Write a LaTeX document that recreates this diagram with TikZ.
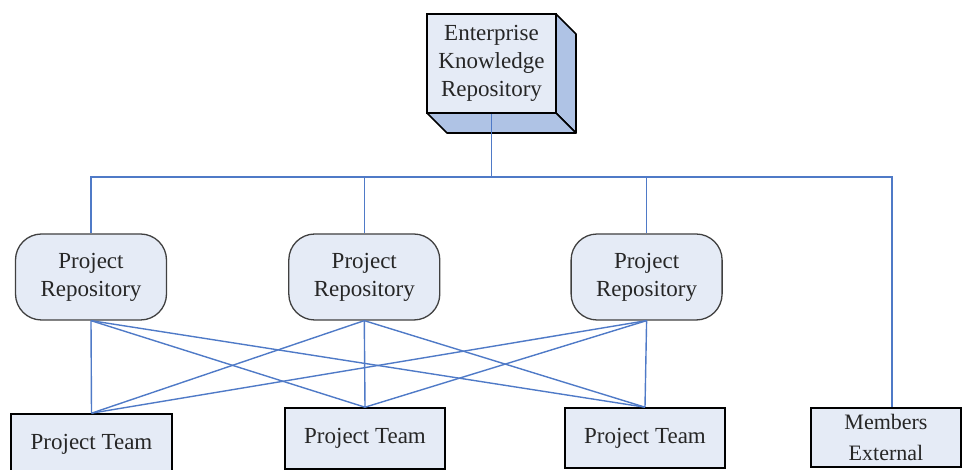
\documentclass[tikz,border=0pt]{standalone}
\usepackage{fontspec}
\setmainfont{Liberation Serif}
\usepackage{tikz}
\usetikzlibrary{positioning}

\definecolor{boxfill}{HTML}{E5EBF6}
\definecolor{sidefill}{HTML}{AFC3E5}
\definecolor{linkblue}{HTML}{4F7AC7}
\definecolor{txtgray}{HTML}{262626}

\tikzset{
  txt/.style={font=\fontsize{23}{28}\selectfont, text=txtgray, align=center, inner sep=0pt},
  ekrbox/.style={txt, draw=black, line width=1.6pt, fill=boxfill, minimum width=129pt, minimum height=99pt},
  repo/.style={txt, draw=black!75, line width=1.3pt, fill=boxfill, rounded corners=26pt, minimum width=151pt, minimum height=86pt},
  team/.style={txt, draw=black, line width=1.6pt, fill=boxfill, minimum width=160pt, minimum height=60pt},
  link/.style={draw=linkblue, line width=1.4pt}
}

\begin{document}
\begin{tikzpicture}[x=1pt, y=1pt]
  \useasboundingbox (0,0) rectangle (962,470);
  % 3d sides of the top box %
  \filldraw[fill=sidefill, draw=black, line width=1.6pt, line join=round]
    (556,456) -- (576,436) -- (576,337) -- (556,357) -- cycle;
  \filldraw[fill=sidefill, draw=black, line width=1.6pt, line join=round]
    (427,357) -- (556,357) -- (576,337) -- (447,337) -- cycle;
  % nodes %
  \node[ekrbox] (ekr) at (491.5,406.5) {Enterprise\\Knowledge\\Repository};
  \node[repo] (r1) at (91,193) {Project\\Repository};
  \node[repo, right=121pt of r1] (r2) {Project\\Repository};
  \node[repo, right=130pt of r2] (r3) {Project\\Repository};
  \node[team, minimum width=161pt] (t1) at (91.5,26) {Project Team};
  \node[team, minimum height=61pt] (t2) at (365,31.5) {Project Team};
  \node[team] (t3) at (645,32) {Project Team};
  \node[team, minimum width=150pt, minimum height=59pt, font=\fontsize{22}{31}\selectfont] (ext) at (886,32.5) {Members\\External};
  \coordinate (bus) at (491.5,293);
  \coordinate (busend) at (892,293);
  % edges %
  \draw[link] (ekr.south) -- (bus);
  \draw[link] (r1.north) |- (busend) -- (busend |- ext.north);
  \draw[link] (r2.north) -- (r2.north |- bus);
  \draw[link] (r3.north) -- (r3.north |- bus);
  \foreach \r in {r1,r2,r3}{
    \foreach \t in {t1,t2,t3}{
      \draw[link] (\r.south) -- (\t.north);
    }
  }
\end{tikzpicture}
\end{document}
